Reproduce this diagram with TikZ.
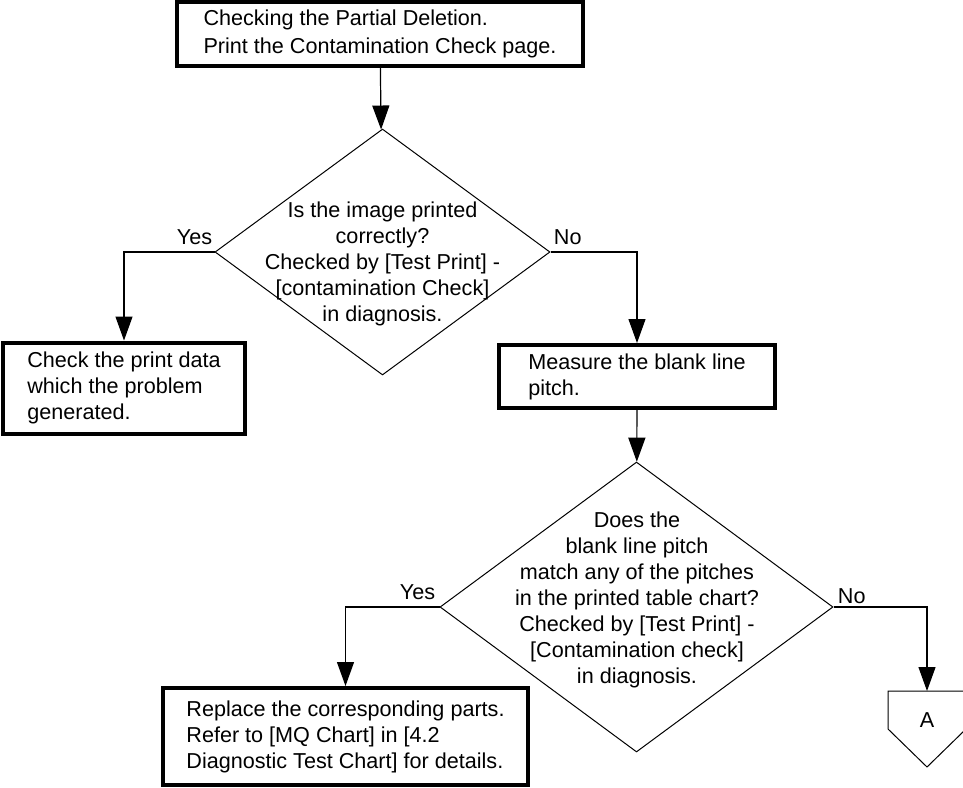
\documentclass[tikz,border=0pt]{standalone}
\usepackage{fontspec}
\setmainfont{Liberation Sans}
\usepackage{tikz}
\usetikzlibrary{arrows.meta,shapes.geometric,calc}
\tikzset{
  txt/.style={font=\fontsize{10.8}{13}\selectfont},
  act/.style={txt, draw, line width=2pt, align=left, inner sep=0pt},
  dec/.style={draw, diamond, inner sep=0pt, line width=0.5pt},
  dtxt/.style={txt, align=center, inner sep=0pt},
  ans/.style={txt, inner sep=0pt},
  flow/.style={-{Triangle[length=12pt,width=8.5pt]}, line width=0.6pt}
}
\begin{document}
\begin{tikzpicture}[x=0.5pt, y=-0.5pt]
\useasboundingbox (0,0) rectangle (963,787);
% process boxes
\node[act, minimum width=203pt, minimum height=32pt, font=\fontsize{10.8}{13.8}\selectfont] (chk) at (380,34)
  {Checking the Partial Deletion.\\Print the Contamination Check page.};
\node[act, minimum width=121pt, minimum height=45.5pt] (data) at (124,388)
  {Check the print data\\which the problem\\generated.};
\node[act, minimum width=138pt, minimum height=31.5pt] (meas) at (637,376.5)
  {Measure the blank line\\pitch.};
\node[act, minimum width=182.5pt, minimum height=48.5pt] (repl) at (345.5,736.5)
  {Replace the corresponding parts.\\Refer to [MQ Chart] in [4.2\\Diagnostic Test Chart] for details.};
% decisions
\node[dec, minimum width=167.5pt, minimum height=123pt] (d1) at (382.5,252) {};
\node[dtxt] (d1t) at (382.5,264)
  {Is the image printed\\correctly?\\Checked by [Test Print] -\\{}[contamination Check]\\in diagnosis.};
\node[dec, minimum width=196.5pt, minimum height=145pt] (d2) at (636.5,607) {};
\node[dtxt] (d2t) at (637,599.5)
  {Does the\\blank line pitch\\match any of the pitches\\in the printed table chart?\\Checked by [Test Print] -\\{}[Contamination check]\\in diagnosis.};
% off-page connector
\draw[line width=0.5pt] (888,691) -- (966,691) -- (966,729) -- (927,767) -- (888,729) -- cycle;
\coordinate (pgT) at (927,691);
\node[ans] (pgA) at (927,720) {A};
% answers
\node[ans, anchor=base east] (y1) at ([xshift=-1pt,yshift=4pt]d1.west) {Yes};
\node[ans, anchor=base west] (n1) at ([xshift=1.5pt,yshift=4pt]d1.east) {No};
\node[ans, anchor=base east] (y2) at ([xshift=-2pt,yshift=4pt]d2.west) {Yes};
\node[ans, anchor=base west] (n2) at ([xshift=2pt,yshift=2pt]d2.east) {No};
% connectors
\draw[flow] (chk) -- (d1);
\draw[flow] (d1.west) -| (data.north);
\draw[flow] (d1.east) -| (meas.north);
\draw[flow] (meas) -- (d2);
\draw[flow] (d2.west) -| (repl.north);
\draw[flow] (d2.east) -| (pgT);
\end{tikzpicture}
\end{document}
